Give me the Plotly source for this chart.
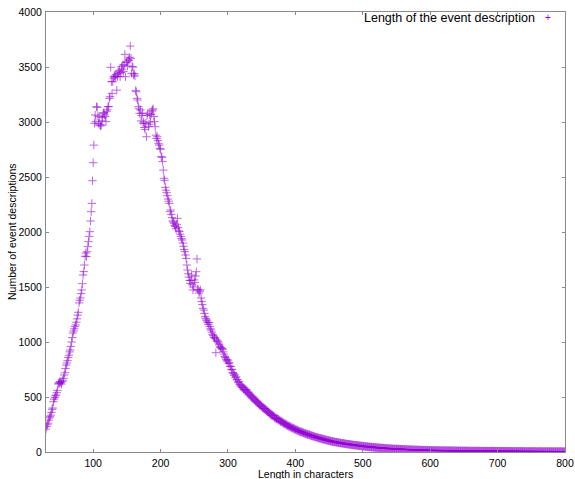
import plotly.graph_objects as go

# Counts of event descriptions for each description length (30 .. 800 characters)
counts = [
    209, 232, 248, 262, 290, 310, 321, 335, 360, 388,
    400, 457, 480, 495, 510, 518, 539, 560, 618, 630,
    625, 640, 630, 618, 640, 652, 670, 700, 720, 760,
    790, 809, 830, 860, 880, 910, 927, 960, 1000, 1040,
    1082, 1100, 1120, 1140, 1155, 1180, 1210, 1245, 1270, 1355,
    1380, 1400, 1440, 1473, 1530, 1609, 1640, 1700, 1780, 1809,
    1776, 1821, 1867, 1912, 1960, 2003, 2100, 2185, 2260, 2466,
    2630, 2790, 2988, 3064, 3003, 3139, 3133, 3055, 2988, 3048,
    2973, 2964, 2973, 3010, 3040, 3079, 3085, 3064, 3050, 3003,
    3094, 3110, 3139, 3140, 3215, 3230, 3497, 3367, 3260, 3366,
    3400, 3412, 3418, 3412, 3430, 3290, 3412, 3457, 3440, 3470,
    3412, 3450, 3503, 3480, 3518, 3460, 3520, 3615, 3412, 3540,
    3548, 3510, 3570, 3560, 3588, 3690, 3579, 3443, 3503, 3500,
    3427, 3440, 3418, 3285, 3275, 3215, 3200, 3139, 3120, 3079,
    3109, 3010, 3060, 3079, 2988, 3000, 2950, 2933, 2990, 2866,
    3060, 3080, 2958, 2980, 3064, 3000, 3070, 3100, 3109, 3120,
    3050, 3003, 2957, 2880, 2850, 2866, 2830, 2803, 2790, 2760,
    2752, 2685, 2679, 2640, 2563, 2488, 2470, 2406, 2380, 2357,
    2330, 2300, 2280, 2260, 2185, 2200, 2160, 2130, 2100, 2090,
    2079, 2060, 2050, 2030, 2070, 2124, 2040, 2010, 2003, 1980,
    1960, 1940, 1927, 1900, 1870, 1840, 1821, 1791, 1760, 1700,
    1654, 1620, 1590, 1560, 1533, 1560, 1609, 1520, 1473, 1500,
    1564, 1540, 1600, 1639, 1755, 1480, 1473, 1445, 1460, 1473,
    1400, 1367, 1340, 1306, 1290, 1260, 1230, 1215, 1200, 1190,
    1176, 1160, 1176, 1140, 1120, 1109, 1090, 1070, 1060, 1045,
    1040, 1033, 903, 1020, 1010, 1003, 990, 975, 960, 950,
    945, 940, 933, 910, 890, 870, 860, 845, 836, 825,
    836, 805, 812, 780, 776, 748, 752, 722, 715, 698,
    702, 676, 684, 655, 660, 632, 641, 618, 612, 598,
    604, 586, 590, 571, 580, 560, 566, 548, 564, 540,
    545, 522, 530, 509, 516, 496, 505, 484, 490, 471,
    478, 460, 466, 449, 456, 442, 438, 424, 430, 414,
    418, 402, 410, 396, 397, 384, 390, 372, 378, 362,
    366, 352, 356, 340, 348, 332, 336, 322, 330, 316,
    306, 312, 300, 306, 292, 298, 284, 291, 276, 280,
    268, 274, 260, 264, 254, 258, 246, 250, 238, 244,
    232, 236, 226, 230, 218, 224, 214, 218, 206, 212,
    202, 206, 196, 200, 190, 194, 186, 188, 180, 184,
    176, 180, 172, 174, 166, 170, 162, 165, 158, 160,
    155, 157, 150, 153, 146, 148, 142, 145, 138, 140,
    134, 137, 130, 133, 127, 129, 124, 126, 120, 122,
    117, 119, 113, 116, 110, 112, 107, 109, 104, 106,
    101, 104, 98, 100, 95, 97, 92, 95, 90, 92,
    88, 90, 86, 87, 83, 85, 81, 83, 79, 81,
    78, 80, 75, 77, 73, 75, 71, 73, 70, 71,
    69, 70, 66, 68, 64, 66, 63, 64, 61, 63,
    60, 62, 58, 60, 56, 58, 55, 57, 53, 55,
    52, 54, 50, 52, 49, 51, 47, 49, 46, 48,
    45, 47, 44, 46, 43, 44, 42, 43, 40, 42,
    40, 41, 38, 40, 37, 39, 36, 38, 35, 37,
    35, 36, 33, 35, 32, 34, 31, 33, 30, 32,
    30, 31, 29, 30, 28, 30, 27, 29, 26, 28,
    27, 28, 26, 27, 25, 27, 24, 26, 25, 24,
    25, 23, 24, 22, 24, 21, 23, 22, 21, 22,
    21, 20, 22, 19, 21, 20, 19, 20, 18, 20,
    19, 18, 20, 17, 19, 18, 17, 18, 16, 18,
    17, 16, 18, 15, 17, 16, 15, 17, 14, 16,
    16, 15, 14, 16, 13, 15, 14, 13, 15, 13,
    14, 13, 15, 12, 14, 13, 12, 14, 12, 13,
    13, 12, 14, 11, 13, 12, 11, 13, 11, 12,
    12, 11, 13, 10, 12, 11, 10, 12, 11, 10,
    11, 12, 10, 11, 9, 11, 10, 12, 9, 10,
    10, 11, 9, 10, 11, 9, 10, 8, 10, 9,
    10, 9, 8, 10, 9, 8, 9, 10, 8, 9,
    9, 8, 10, 8, 9, 7, 9, 8, 9, 7,
    8, 9, 7, 8, 9, 7, 8, 7, 9, 8,
    8, 7, 8, 9, 7, 8, 6, 8, 7, 8,
    7, 8, 6, 7, 8, 6, 7, 8, 6, 7,
    7, 6, 8, 6, 7, 5, 7, 6, 7, 6,
    6, 7, 5, 7, 6, 5, 6, 7, 5, 6,
    6, 5, 7, 5, 6, 6, 5, 6, 4, 6,
    5, 6, 5, 4, 6, 5, 6, 4, 5, 6,
    5, 4, 6, 5, 4, 5, 6, 4, 5, 4,
    5, 4, 5, 6, 4, 5, 4, 5, 3, 5,
    4, 5, 4, 3, 5, 4, 5, 4, 3, 4,
    4, 5, 3, 4, 4, 3, 5, 4, 3, 4,
    4, 3, 4, 5, 3, 4, 3, 4, 3, 4,
    3,
]
first_length = 30
lengths = list(range(first_length, first_length + len(counts)))

x_ticks = [100, 200, 300, 400, 500, 600, 700, 800]
y_ticks = [0, 500, 1000, 1500, 2000, 2500, 3000, 3500, 4000]
series_name = "Length of the event description"
x_title = "Length in characters"
y_title = "Number of event descriptions"

FONT = "Liberation Sans"
COLOR = "#9400D3"
AXIS = "#8a8a8a"

fig = go.Figure()
fig.add_trace(go.Scatter(
    x=lengths, y=counts, mode="markers", name=series_name,
    marker=dict(symbol="cross-thin", size=6, opacity=0.6,
                line=dict(width=1, color=COLOR), color=COLOR),
    showlegend=False,
))

fig.update_layout(
    width=575, height=479,
    margin=dict(l=46, r=10, t=12, b=27, autoexpand=False),
    paper_bgcolor="white", plot_bgcolor="white",
    font=dict(family=FONT, size=10.5, color="#000000"),
    xaxis=dict(range=[30, 800], tickvals=x_ticks, ticktext=[str(v) for v in x_ticks],
               ticks="inside", ticklen=3, tickcolor=AXIS, showline=True, linecolor=AXIS,
               linewidth=1, mirror="ticks", showgrid=False, zeroline=False,
               automargin=False, ticklabelstandoff=1),
    yaxis=dict(range=[0, 4000], tickvals=y_ticks, ticktext=[str(v) for v in y_ticks],
               ticks="inside", ticklen=3, tickcolor=AXIS, showline=True, linecolor=AXIS,
               linewidth=1, mirror="ticks", showgrid=False, zeroline=False,
               automargin=False, ticklabelstandoff=1),
    annotations=[
        dict(text=x_title, xref="paper", yref="paper", x=0.5, y=-0.0500,
             xanchor="center", yanchor="middle", showarrow=False,
             font=dict(family=FONT, size=10.5, color="#000000")),
        dict(text=y_title, xref="paper", yref="paper", x=-0.0655, y=0.5,
             xanchor="center", yanchor="middle", showarrow=False, textangle=-90,
             font=dict(family=FONT, size=10.5, color="#000000")),
        dict(text=series_name, xref="paper", yref="paper", x=0.946, y=0.986,
             xanchor="right", yanchor="middle", showarrow=False,
             font=dict(family=FONT, size=12.5, color="#000000")),
        dict(text="+", xref="paper", yref="paper", x=0.967, y=0.988,
             xanchor="center", yanchor="middle", showarrow=False,
             font=dict(family=FONT, size=10, color=COLOR)),
    ],
)

fig.write_html("out.html", config={"displayModeBar": False},
               post_script="document.body.style.margin='0px';")
